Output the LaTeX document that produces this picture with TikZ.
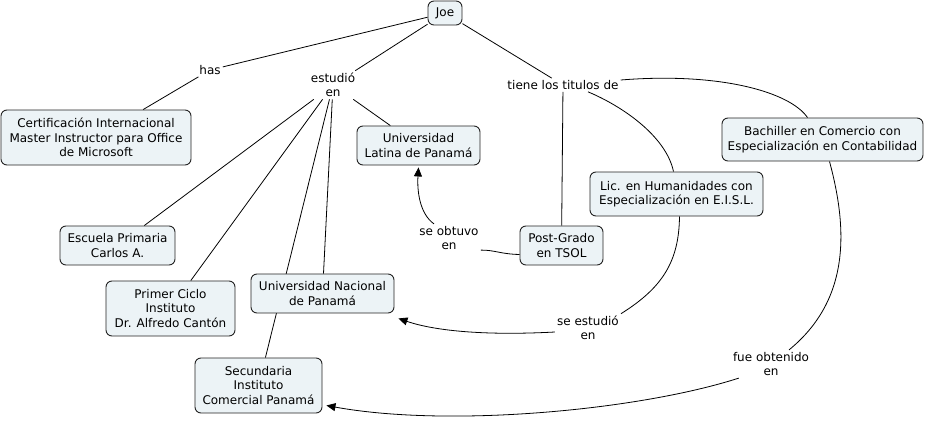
\documentclass[tikz,border=0pt]{standalone}
\usepackage{fontspec}
\setmainfont{DejaVu Sans}
\usetikzlibrary{arrows.meta,backgrounds}
\definecolor{boxfill}{RGB}{236,243,246}
\definecolor{boxline}{RGB}{35,35,35}
\begin{document}
\begin{tikzpicture}[x=1pt,y=-1pt,>={Triangle[length=9pt,width=8pt]},
  concept/.style={draw=boxline,line width=0.9pt,fill=boxfill,rounded corners=6pt,align=center,inner sep=0pt},
  linking/.style={align=center,inner sep=2pt},
  every node/.style={font=\fontsize{12}{14.5}\selectfont},
  link/.style={line width=0.8pt}]
\useasboundingbox (0,0) rectangle (927,431);
\node[concept,minimum width=34,minimum height=24] (joe) at (445,13) {Joe};
\node[concept,minimum width=190,minimum height=55] (cert) at (96,137.5) {Certificación Internacional\\Master Instructor para Office\\de Microsoft};
\node[concept,minimum width=123,minimum height=39] (ulat) at (418.5,145.5) {Universidad\\Latina de Panamá};
\node[concept,minimum width=201,minimum height=43] (bach) at (822.5,139.5) {Bachiller en Comercio con\\Especialización en Contabilidad};
\node[concept,minimum width=173,minimum height=44] (lic) at (676.5,194) {Lic. en Humanidades con\\Especialización en E.I.S.L.};
\node[concept,minimum width=115,minimum height=39] (escuela) at (117.5,245.5) {Escuela Primaria\\Carlos A.};
\node[concept,minimum width=83,minimum height=39] (post) at (561.5,245.5) {Post-Grado\\en TSOL};
\node[concept,minimum width=129,minimum height=55] (primer) at (170.5,308.5) {Primer Ciclo\\Instituto\\Dr. Alfredo Cantón};
\node[concept,minimum width=143,minimum height=39] (unac) at (322.5,293.5) {Universidad Nacional\\de Panamá};
\node[concept,minimum width=127,minimum height=55] (secun) at (258.5,385.5) {Secundaria\\Instituto\\Comercial Panamá};
\node[linking] (has) at (210,70) {has};
\node[linking] (estud) at (333,85) {estudió\\en};
\node[linking] (tiene) at (563,85) {tiene los titulos de};
\node[linking] (obtuvo) at (449,238) {se obtuvo\\en};
\node[linking] (sestud) at (588,328) {se estudió\\en};
\node[linking] (fue) at (771,364) {fue obtenido\\en};
\begin{scope}[on background layer]
\draw[link] (joe) -- (has);
\draw[link] (has) -- (cert);
\draw[link] (joe) -- (estud);
\draw[link] (estud) -- (ulat);
\draw[link] (estud) -- (escuela);
\draw[link] (estud) -- (primer);
\draw[link] (estud) -- (unac);
\draw[link] (estud) -- (secun);
\draw[link] (joe) -- (tiene);
\draw[link] (tiene) -- (post);
\draw[link] ([xshift=25]tiene.south) .. controls (622,106) and (666,136) .. ([xshift=-3]lic.north);
\draw[link] ([yshift=5]tiene.east) .. controls (720,72) and (790,92) .. ([xshift=-15]bach.north);
\draw[link] ([yshift=-9]post.west) .. controls (500,254) and (495,250) .. ([yshift=2]obtuvo.south east);
\draw[link,->] ([xshift=-15]obtuvo.north) .. controls (420,214) and (417,192) .. ([yshift=-2]ulat.south);
\draw[link] ([xshift=3]lic.south) .. controls (679,262) and (662,288) .. (sestud.north east);
\draw[link,->] ([yshift=-4]sestud.west) .. controls (480,336) and (432,330) .. ([xshift=4,yshift=-5]unac.south east);
\draw[link] ([xshift=7]bach.south) .. controls (848,230) and (850,300) .. ([xshift=18]fue.north);
\draw[link,->] ([xshift=8]fue.south west) .. controls (640,410) and (450,428) .. ([xshift=4,yshift=-20]secun.east);
\end{scope}
\end{tikzpicture}
\end{document}
